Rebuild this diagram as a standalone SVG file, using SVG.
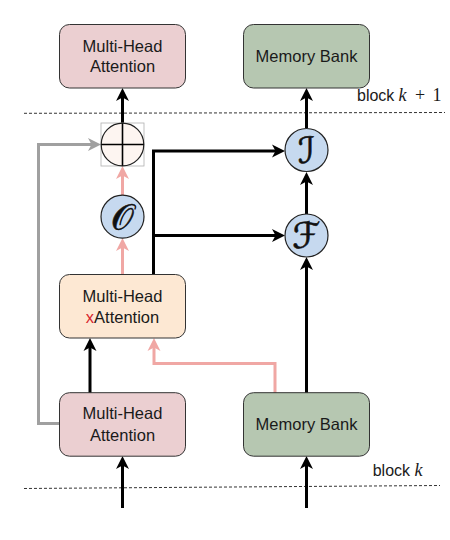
<svg xmlns="http://www.w3.org/2000/svg" width="450" height="540" viewBox="0 0 450 540">
<style>
.box{stroke:#333;stroke-width:1}
.mha{fill:#ebcfd1}
.mb{fill:#b6c7b1}
.xa{fill:#fde8d3}
.lbl{font-family:"Liberation Sans",Arial,sans-serif;font-size:16.5px;fill:#1a1a1a;text-anchor:middle}
.op{fill:#c6d9ef;stroke:#222;stroke-width:1.2}
.sym{font-family:"DejaVu Serif","DejaVu Sans",serif;font-size:36px;fill:#111;stroke:#111;stroke-width:0.6;text-anchor:middle}
.blk{font-family:"Liberation Sans",Arial,sans-serif;font-size:16px;fill:#1a1a1a}
.math{font-family:"Liberation Serif","Times New Roman",serif;font-size:18px}
.k{fill:none;stroke:#000;stroke-width:3}
.p{fill:none;stroke:#f0a7a4;stroke-width:3}
.g{fill:none;stroke:#a0a0a0;stroke-width:3}
.dash{fill:none;stroke:#333;stroke-width:1;stroke-dasharray:3 2}
</style>
<defs>
<marker id="ak" markerUnits="userSpaceOnUse" viewBox="0 0 13 14" markerWidth="13" markerHeight="14" refX="9" refY="7" orient="auto"><path d="M0,0.5 L13,7 L0,13.5 L3.5,7 z" fill="#000"/></marker>
<marker id="ap" markerUnits="userSpaceOnUse" viewBox="0 0 13 14" markerWidth="13" markerHeight="14" refX="9" refY="7" orient="auto"><path d="M0,0.5 L13,7 L0,13.5 L3.5,7 z" fill="#f0a7a4"/></marker>
<marker id="ag" markerUnits="userSpaceOnUse" viewBox="0 0 13 14" markerWidth="13" markerHeight="14" refX="9" refY="7" orient="auto"><path d="M0,0.5 L13,7 L0,13.5 L3.5,7 z" fill="#a0a0a0"/></marker>
</defs>
<rect width="450" height="540" fill="#fff"/>
<g id="dividers">
<path class="dash" d="M24,113.3 L445,112.5"/>
<path class="dash" d="M24,488.5 L440,485.5"/>
</g>
<g id="connectors">
<path class="k" d="M122.5,123 V92" marker-end="url(#ak)"/>
<path class="g" d="M59,423.5 H38.5 V144.5 H97" marker-end="url(#ag)"/>
<path class="p" d="M122.5,195 V170" marker-end="url(#ap)"/>
<path class="p" d="M122.5,274 V242" marker-end="url(#ap)"/>
<path class="k" d="M153.5,275 V151 H281" marker-end="url(#ak)"/>
<path class="k" d="M153.5,235.5 H281" marker-end="url(#ak)"/>
<path class="k" d="M306.5,128 V92" marker-end="url(#ak)"/>
<path class="k" d="M306.5,214 V176" marker-end="url(#ak)"/>
<path class="k" d="M306.5,393 V261" marker-end="url(#ak)"/>
<path class="k" d="M90,393 V342" marker-end="url(#ak)"/>
<path class="p" d="M275,393 V363.5 H154 V342" marker-end="url(#ap)"/>
<path class="k" d="M122.5,508 V460" marker-end="url(#ak)"/>
<path class="k" d="M306.5,508 V460" marker-end="url(#ak)"/>
</g>
<g id="mha-top">
<rect class="box mha" x="59.5" y="24.5" width="126" height="63.5" rx="10"/>
<text class="lbl" x="122.5" y="51.7">Multi-Head</text>
<text class="lbl" x="122.5" y="71.7">Attention</text>
</g>
<g id="mb-top">
<rect class="box mb" x="243.5" y="24.5" width="126" height="63.5" rx="10"/>
<text class="lbl" x="306.5" y="61.8">Memory Bank</text>
</g>
<g id="block-k1">
<text class="blk" x="357" y="100.7">block <tspan class="math" font-style="italic" x="398.5">k</tspan><tspan class="math" x="415">+</tspan><tspan class="math" x="432.5">1</tspan></text>
</g>
<g id="plus">
<rect x="101" y="123" width="43" height="43" fill="none" stroke="#b0b0b0" stroke-width="0.8"/>
<circle cx="122.5" cy="144.5" r="21.3" fill="#fdf5f1" stroke="#222" stroke-width="1.2"/>
<path d="M122.5,123.2 V165.8 M101.2,144.5 H143.8" stroke="#000" stroke-width="1.6"/>
</g>
<g id="op-O">
<circle class="op" cx="122.5" cy="216.7" r="21.5"/>
<text class="sym" x="122.5" y="229.5">𝒪</text>
</g>
<g id="op-I">
<circle class="op" cx="306.5" cy="150" r="21.5"/>
<text class="sym" x="306.5" y="162.5">ℐ</text>
</g>
<g id="op-F">
<circle class="op" cx="306.5" cy="235.5" r="21.5"/>
<text class="sym" x="306.5" y="248">ℱ</text>
</g>
<g id="mhxa">
<rect class="box xa" x="59.5" y="274.5" width="126" height="63.5" rx="10"/>
<text class="lbl" x="122.5" y="301.7">Multi-Head</text>
<text class="lbl" x="122.5" y="322.7"><tspan fill="#d9262f">x</tspan>Attention</text>
</g>
<g id="mha-bottom">
<rect class="box mha" x="59.5" y="392.7" width="126" height="63.5" rx="10"/>
<text class="lbl" x="122.5" y="419.2">Multi-Head</text>
<text class="lbl" x="122.5" y="440.5">Attention</text>
</g>
<g id="mb-bottom">
<rect class="box mb" x="243.5" y="392.7" width="126" height="63.5" rx="10"/>
<text class="lbl" x="306.5" y="430">Memory Bank</text>
</g>
<g id="block-k">
<text class="blk" x="372.7" y="476">block <tspan class="math" font-style="italic" x="414.5">k</tspan></text>
</g>
</svg>
